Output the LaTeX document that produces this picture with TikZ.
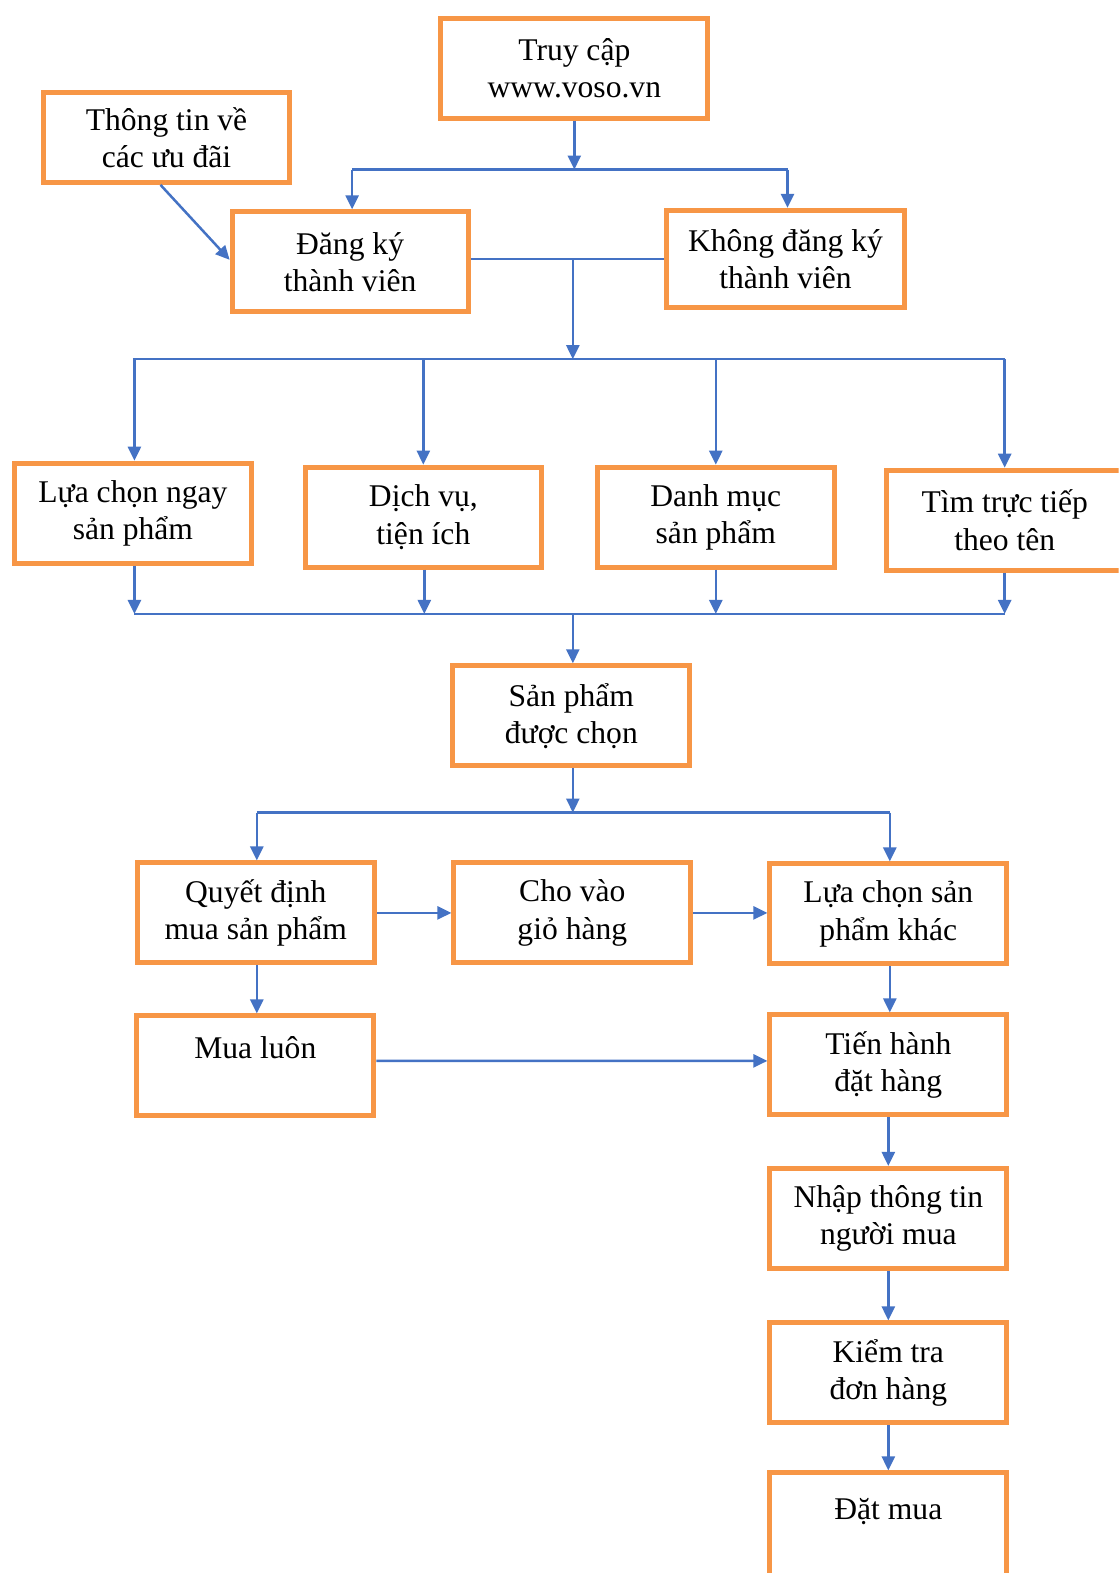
\documentclass[tikz,border=0pt]{standalone}
\usepackage{fontspec}
\setmainfont{Liberation Serif}
\usetikzlibrary{arrows.meta}
\definecolor{boxorange}{RGB}{247,150,70}
\definecolor{linkblue}{RGB}{68,114,196}
\begin{document}
\begin{tikzpicture}[x=1.0036pt,y=-1.0036pt,
  stepbox/.style={draw=boxorange, line width=5pt, fill=white,
    minimum width=237pt, minimum height=100pt, inner sep=0pt,
    align=center, font=\fontsize{31.6}{37.2}\selectfont},
  link/.style={draw=linkblue, line width=2.5pt},
  arr/.style={link, -{Triangle[length=14pt,width=13pt]}}]
\path[use as bounding box, clip] (0,0) rectangle (1115,1568);
\fill[white] (0,0) rectangle (1115,1568);

% boxes
\node[stepbox, minimum width=267pt] (truy) at (572.5,68) {Truy cập\\www.voso.vn};
\node[stepbox, minimum width=246pt, minimum height=90pt] (uudai) at (166,137) {Thông tin về\\các ưu đãi};
\node[stepbox, minimum width=236pt] (dk) at (349,261) {Đăng ký\\thành viên};
\node[stepbox, minimum width=238pt, minimum height=97pt] (kdk) at (783,258) {Không đăng ký\\thành viên};

\node[stepbox] (ngay) at (132.5,511.5) {Lựa chọn ngay\\sản phẩm};
\node[stepbox, minimum width=236pt] (dv) at (422,515.5) {Dịch vụ,\\tiện ích};
\node[stepbox] (dm) at (713.5,515.5) {Danh mục\\sản phẩm};
\node[stepbox] (tim) at (1001.5,518.5) {Tìm trực tiếp\\theo tên};

\node[stepbox] (chon) at (569.5,713.5) {Sản phẩm\\được chọn};

\node[stepbox] (qd) at (255,910) {Quyết định\\mua sản phẩm};
\node[stepbox] (gio) at (570.5,910) {Cho vào\\giỏ hàng};
\node[stepbox] (khac) at (885.5,911) {Lựa chọn sản\\phẩm khác};
\node[stepbox] (luon) at (254.5,1062.5) {Mua luôn\\~};
\node[stepbox] (tien) at (885.5,1061.5) {Tiến hành\\đặt hàng};
\node[stepbox] (nhap) at (885.5,1214.5) {Nhập thông tin\\người mua};
\node[stepbox] (kiem) at (885.5,1368.5) {Kiểm tra\\đơn hàng};
\node[stepbox, minimum height=110pt] (dat) at (885.5,1523) {Đặt mua\\~};

% junction points on the bus lines
\coordinate (b0) at (572,169);
\coordinate (j1) at (571,258);
\coordinate (b1) at (571,358);
\coordinate (b2) at (571,612);
\coordinate (b3) at (571,810);

% access -> register / not register
\draw[arr] (truy.south) -- (truy.south |- b0);
\draw[link] ([xshift=2pt]dk.north |- b0) -- ([xshift=2pt]kdk.north |- b0);
\draw[arr] ([xshift=2pt]dk.north |- b0) -- ([xshift=2pt]dk.north);
\draw[arr] ([xshift=2pt]kdk.north |- b0) -- ([xshift=2pt]kdk.north);
\draw[arr] ([xshift=-6pt]uudai.south) -- ([yshift=2pt]dk.west);

% both paths join and fan out to the four search modes
\draw[link] (dk.east |- j1) -- (kdk.west |- j1);
\draw[arr] (j1) -- (b1);
\draw[link] (ngay.north |- b1) -- (tim.north |- b1);
\draw[arr] ([xshift=1.5pt]ngay.north |- b1) -- ([xshift=1.5pt]ngay.north);
\draw[arr] (dv.north |- b1) -- (dv.north);
\draw[arr] (dm.north |- b1) -- (dm.north);
\draw[arr] (tim.north |- b1) -- (tim.north);

% four modes converge on the chosen product
\draw[arr] ([xshift=1.5pt]ngay.south) -- ([xshift=1.5pt]ngay.south |- b2);
\draw[arr] ([xshift=1pt]dv.south) -- ([xshift=1pt]dv.south |- b2);
\draw[arr] (dm.south) -- (dm.south |- b2);
\draw[arr] (tim.south) -- (tim.south |- b2);
\draw[link] ([xshift=1.5pt]ngay.south |- b2) -- (tim.south |- b2);
\draw[arr] (b2) -- (b2 |- chon.north);

% chosen product branches
\draw[arr] ([xshift=1.5pt]chon.south) -- ([xshift=1.5pt]chon.south |- b3);
\draw[link] ([xshift=1pt]qd.north |- b3) -- ([xshift=1.5pt]khac.north |- b3);
\draw[arr] ([xshift=1pt]qd.north |- b3) -- ([xshift=1pt]qd.north);
\draw[arr] ([xshift=1.5pt]khac.north |- b3) -- ([xshift=1.5pt]khac.north);

% purchase flow
\draw[arr] (qd.east) -- (gio.west);
\draw[arr] (gio.east) -- (khac.west |- gio.east);
\draw[arr] ([xshift=1pt]qd.south) -- ([xshift=1pt]qd.south |- luon.north);
\draw[arr] ([yshift=5pt]luon.east) -- ([yshift=4pt]tien.west);
\draw[arr] ([xshift=1.5pt]khac.south) -- ([xshift=1.5pt]tien.north);
\draw[arr] (tien.south) -- (nhap.north);
\draw[arr] (nhap.south) -- (kiem.north);
\draw[arr] (kiem.south) -- (dat.north);
\end{tikzpicture}
\end{document}
